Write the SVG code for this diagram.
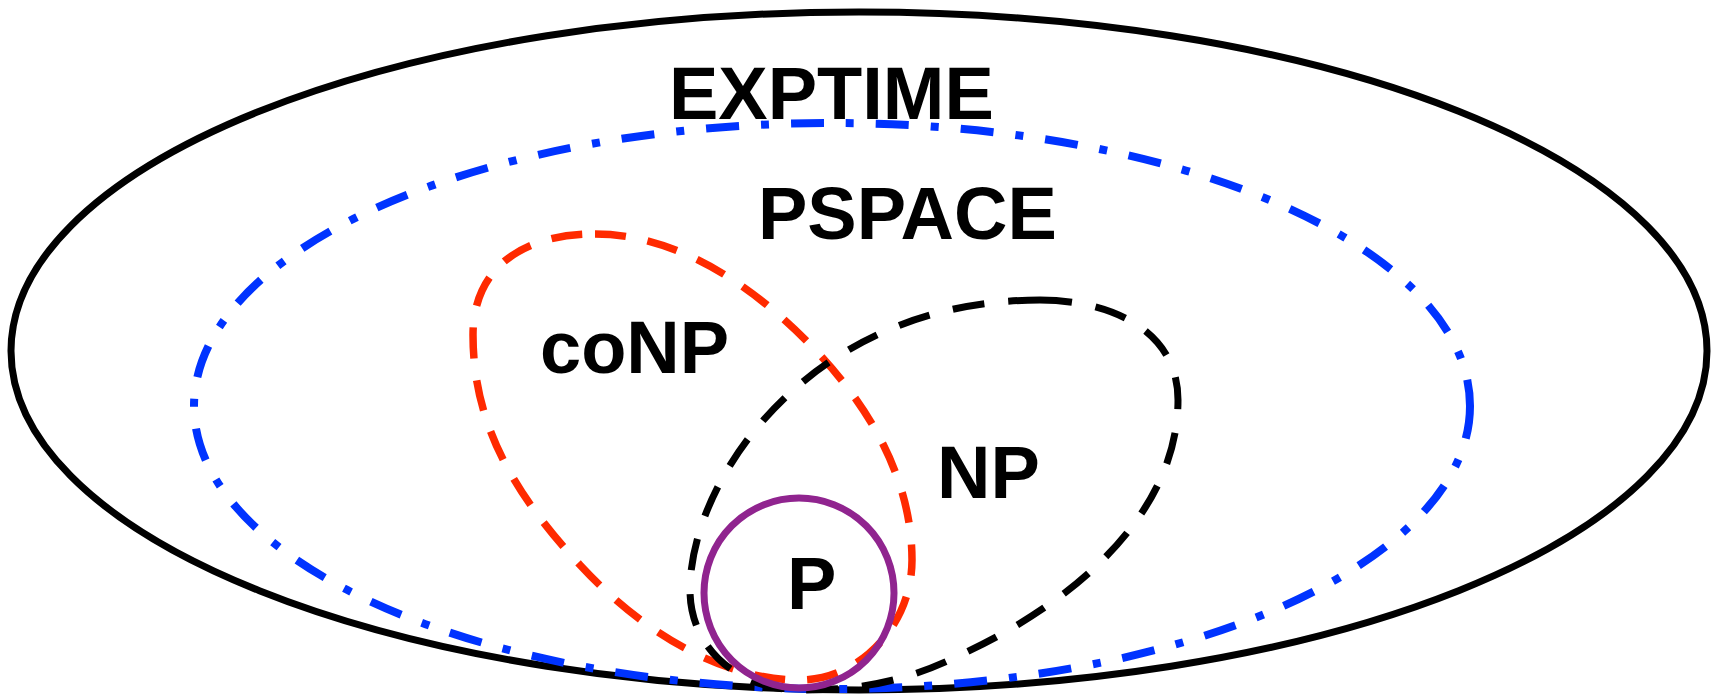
<svg xmlns="http://www.w3.org/2000/svg" width="1720" height="696" viewBox="0 0 1720 696">
  <style>
    .label { font-family: "Liberation Sans", Arial, sans-serif; font-weight: bold; font-size: 74px; fill: #000; }
    .set { fill: none; }
    .exptime { stroke: #000; stroke-width: 7; }
    .pspace { stroke: #0033ff; stroke-width: 8; stroke-dasharray: 33 22 8 22; }
    .conp { stroke: #ff2a00; stroke-width: 7.5; stroke-dasharray: 31 22; }
    .np { stroke: #000; stroke-width: 7; stroke-dasharray: 32 24; }
    .p { stroke: #90248f; stroke-width: 7; }
  </style>
  <rect width="1720" height="696" fill="#fff"/>

  <!-- EXPTIME: outer solid ellipse -->
  <g id="exptime">
    <ellipse class="set exptime" cx="859" cy="351" rx="848" ry="339"/>
    <text class="label" x="669" y="119">EXPTIME</text>
  </g>

  <!-- PSPACE: dash-dot ellipse -->
  <g id="pspace">
    <ellipse class="set pspace" cx="832" cy="406" rx="638" ry="283"/>
    <text class="label" x="758" y="239">PSPACE</text>
  </g>

  <!-- coNP: red dashed teardrop -->
  <g id="conp">
    <path class="set conp" d="M 595,234 C 680,234 760,290 820,355 C 880,420 912,490 912,560 C 912,625 860,680 800,680 C 720,680 640,630 580,565 C 510,490 473,420 473,335 C 473,270 520,234 595,234 Z"/>
    <text class="label" x="540" y="373">coNP</text>
  </g>

  <!-- NP: black dashed teardrop -->
  <g id="np">
    <path class="set np" d="M 1040,300 C 1110,300 1178,330 1178,400 C 1178,510 1080,600 960,655 C 900,685 850,690 800,690 C 740,690 690,650 690,590 C 690,480 810,300 1040,300 Z"/>
    <text class="label" x="937" y="498">NP</text>
  </g>

  <!-- P: solid purple circle -->
  <g id="p">
    <circle class="set p" cx="799" cy="593" r="95"/>
    <text class="label" x="787" y="609">P</text>
  </g>

  <g id="connectors"/>
</svg>
